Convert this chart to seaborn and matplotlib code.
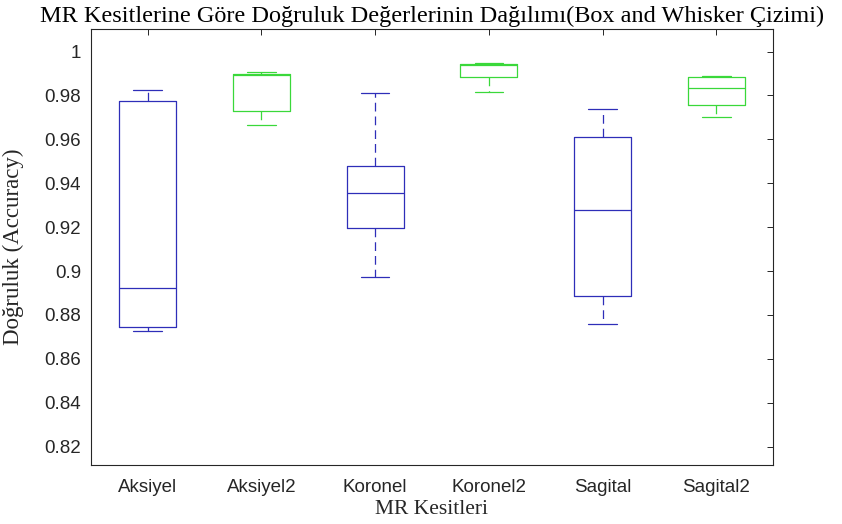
import matplotlib

matplotlib.use("Agg")
import matplotlib.pyplot as plt
import pandas as pd
import seaborn as sns
from matplotlib.ticker import FuncFormatter, MultipleLocator

# Kesit isimleri ve her kesit icin okunan dogruluk degerleri (min, Q1, medyan, Q3, max)
kesitler = ["Aksiyel", "Aksiyel2", "Koronel", "Koronel2", "Sagital", "Sagital2"]
aksiyel = [0.8727, 0.8744, 0.8924, 0.9774, 0.9824]
aksiyel2 = [0.9665, 0.9731, 0.9895, 0.9898, 0.9906]
koronel = [0.8972, 0.9195, 0.9355, 0.9479, 0.9810]
koronel2 = [0.9816, 0.9883, 0.9940, 0.9944, 0.9947]
sagital = [0.8759, 0.8888, 0.9280, 0.9610, 0.9740]
sagital2 = [0.9702, 0.9758, 0.9833, 0.9883, 0.9888]
renkler = ["#2e2eb8", "#3ad83a", "#2e2eb8", "#3ad83a", "#2e2eb8", "#3ad83a"]

# uzun formatta DataFrame
degerler = [aksiyel, aksiyel2, koronel, koronel2, sagital, sagital2]
df = pd.DataFrame(
    [(k, v) for k, vals in zip(kesitler, degerler) for v in vals],
    columns=["kesit", "dogruluk"],
)

sns.set_theme(style="white")
plt.rcParams["font.family"] = ["Liberation Sans", "DejaVu Sans"]
serif = ["Liberation Serif", "DejaVu Serif"]

fig = plt.figure(figsize=(8.42, 5.24), dpi=100)
ax = fig.add_axes([0.1077, 0.1126, 0.8107, 0.8321])

sns.boxplot(
    data=df,
    x="kesit",
    y="dogruluk",
    hue="kesit",
    palette=renkler,
    order=kesitler,
    fill=False,
    whis=(0, 100),
    width=0.5,
    linewidth=0.9,
    whiskerprops={"linestyle": (0, (7, 4))},
    legend=False,
    ax=ax,
)

# ------- eksen ayarlari -------
ax.set_xlim(-0.5, 5.5)
ax.set_ylim(0.8116, 1.0103)
ax.yaxis.set_major_locator(MultipleLocator(0.02))
ax.yaxis.set_major_formatter(FuncFormatter(lambda v, _: f"{round(v, 2):g}"))
ax.tick_params(
    direction="in", length=4, width=0.7, top=True, right=True,
    colors="#262626", labelsize=13.5,
)
ax.tick_params(axis="x", pad=10)
ax.tick_params(axis="y", pad=7)
for sp in ax.spines.values():
    sp.set_color("#262626")
    sp.set_linewidth(0.8)

ax.set_title(
    "MR Kesitlerine Göre Doğruluk Değerlerinin Dağılımı(Box and Whisker Çizimi)",
    family=serif, fontsize=17.5, color="black", pad=5,
)
ax.set_xlabel("MR Kesitleri", family=serif, fontsize=15.5, color="#262626", labelpad=3)
ax.set_ylabel("Doğruluk (Accuracy)", family=serif, fontsize=16.5, color="#262626")
ax.yaxis.set_label_coords(-0.097, 0.5)

fig.savefig("out.png", dpi=100)
